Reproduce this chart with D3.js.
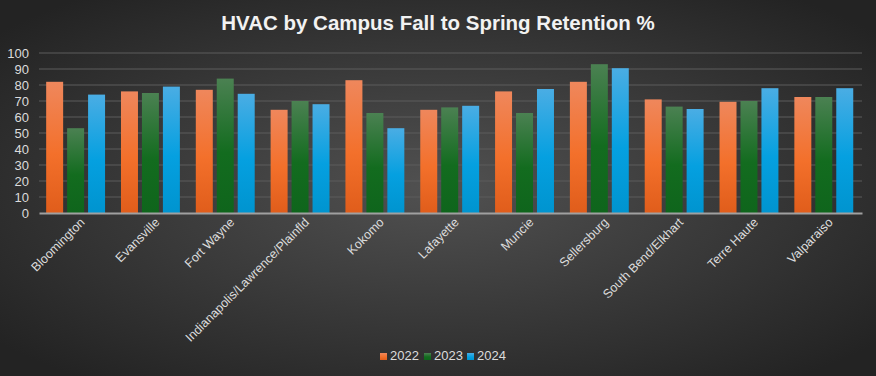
<!DOCTYPE html>
<html>
<head>
<meta charset="utf-8">
<script src="https://cdn.jsdelivr.net/npm/d3@7"></script>
<style>
  html, body { margin: 0; padding: 0; background: #2b2b2b; }
  svg { display: block; font-family: "Liberation Sans", Arial, sans-serif; }
</style>
</head>
<body>
<svg id="chart"></svg>
<script>
const width = 876;
const height = 376;

// Data
const campuses = ['Bloomington', 'Evansville', 'Fort Wayne', 'Indianapolis/Lawrence/Plainfld', 'Kokomo',
    'Lafayette', 'Muncie', 'Sellersburg', 'South Bend/Elkhart', 'Terre Haute', 'Valparaiso'];
const years = ['2022', '2023', '2024'];
const values2022 = [82, 76, 77, 64.5, 83, 64.5, 76, 82, 71, 69.5, 72.5];
const values2023 = [53, 75, 84, 70, 62.5, 66, 62.5, 93, 66.5, 70, 72.5];
const values2024 = [74, 79, 74.5, 68, 53, 67, 77.5, 90.5, 65, 78, 78];
const yTicks = [0, 10, 20, 30, 40, 50, 60, 70, 80, 90, 100];

const series = [values2022, values2023, values2024];
const colors = [
    ['#ef875c', '#f3702b', '#e05d1b'],
    ['#4b8152', '#136c1f', '#0f651c'],
    ['#4aade4', '#05a0e0', '#0094cf']
];

const margin = { top: 53, right: 14, bottom: 163, left: 39 };

const svg = d3.select('#chart')
    .attr('width', width)
    .attr('height', height);

const defs = svg.append('defs');

// Background
const bg = defs.append('radialGradient')
    .attr('id', 'bg')
    .attr('cx', '50%').attr('cy', '50%').attr('r', '65%');
bg.append('stop').attr('offset', '0%').attr('stop-color', '#515151');
bg.append('stop').attr('offset', '100%').attr('stop-color', '#232323');
svg.append('rect')
    .attr('width', width)
    .attr('height', height)
    .attr('fill', 'url(#bg)');

// Bar gradients
colors.forEach((c, i) => {
    const g = defs.append('linearGradient')
        .attr('id', 'grad' + i)
        .attr('x1', 0).attr('y1', 0).attr('x2', 0).attr('y2', 1);
    g.append('stop').attr('offset', '0%').attr('stop-color', c[0]);
    g.append('stop').attr('offset', '55%').attr('stop-color', c[1]);
    g.append('stop').attr('offset', '100%').attr('stop-color', c[2]);
});

// Scales
const x = d3.scaleBand()
    .domain(campuses)
    .range([margin.left, width - margin.right]);

const x1 = d3.scaleBand()
    .domain(years)
    .range([0, x.bandwidth()])
    .paddingInner(0.19)
    .paddingOuter(0.38)
    .align(0.45);

const y = d3.scaleLinear()
    .domain([0, 100])
    .range([height - margin.bottom, margin.top]);

// Gridlines
svg.append('g')
    .selectAll('line')
    .data(yTicks.slice(1))
    .enter()
    .append('line')
    .attr('x1', margin.left)
    .attr('x2', width - margin.right)
    .attr('y1', d => y(d))
    .attr('y2', d => y(d))
    .attr('stroke', '#5c5c5c')
    .attr('stroke-width', 1);

// Y axis labels
const yAxis = d3.axisLeft(y).tickValues(yTicks).tickSize(0).tickPadding(10);
const yG = svg.append('g')
    .attr('transform', `translate(${margin.left},0)`)
    .call(yAxis);
yG.select('.domain').remove();
yG.selectAll('text')
    .attr('fill', '#dcdcdc')
    .style('font-size', '13px');

// Bars
const groups = svg.append('g')
    .selectAll('g')
    .data(campuses)
    .enter()
    .append('g')
    .attr('transform', d => `translate(${x(d)},0)`);

groups.selectAll('rect')
    .data((d, i) => years.map((yr, k) => ({ yr, k, v: series[k][i] })))
    .enter()
    .append('rect')
    .attr('x', d => x1(d.yr))
    .attr('width', x1.bandwidth())
    .attr('y', d => y(d.v))
    .attr('height', d => y(0) - y(d.v))
    .attr('fill', d => `url(#grad${d.k})`);

// X axis
const xAxis = d3.axisBottom(x).tickSize(0).tickPadding(0);
const xG = svg.append('g')
    .attr('transform', `translate(0,${y(0)})`)
    .call(xAxis);
xG.select('.domain')
    .attr('stroke', '#a0a0a0')
    .attr('stroke-width', 2);
xG.selectAll('text')
    .attr('fill', '#dcdcdc')
    .style('font-size', '12.5px')
    .attr('text-anchor', 'end')
    .attr('x', 0)
    .attr('y', 0)
    .attr('dy', '0.35em')
    .attr('transform', 'translate(6,7) rotate(-45)');

// Title
svg.append('text')
    .attr('x', 438)
    .attr('y', 30)
    .attr('text-anchor', 'middle')
    .attr('fill', '#f2f2f2')
    .style('font-size', '20.5px')
    .style('font-weight', 'bold')
    .text('HVAC by Campus Fall to Spring Retention %');

// Legend
const legendX = [380, 424, 467];
const legend = svg.append('g')
    .selectAll('g')
    .data(years)
    .enter()
    .append('g')
    .attr('transform', (d, i) => `translate(${legendX[i]},353)`);
legend.append('rect')
    .attr('width', 7)
    .attr('height', 7)
    .attr('fill', (d, i) => `url(#grad${i})`);
legend.append('text')
    .attr('x', 10)
    .attr('y', 6.5)
    .attr('fill', '#dcdcdc')
    .style('font-size', '13px')
    .text(d => d);
</script>
</body>
</html>
